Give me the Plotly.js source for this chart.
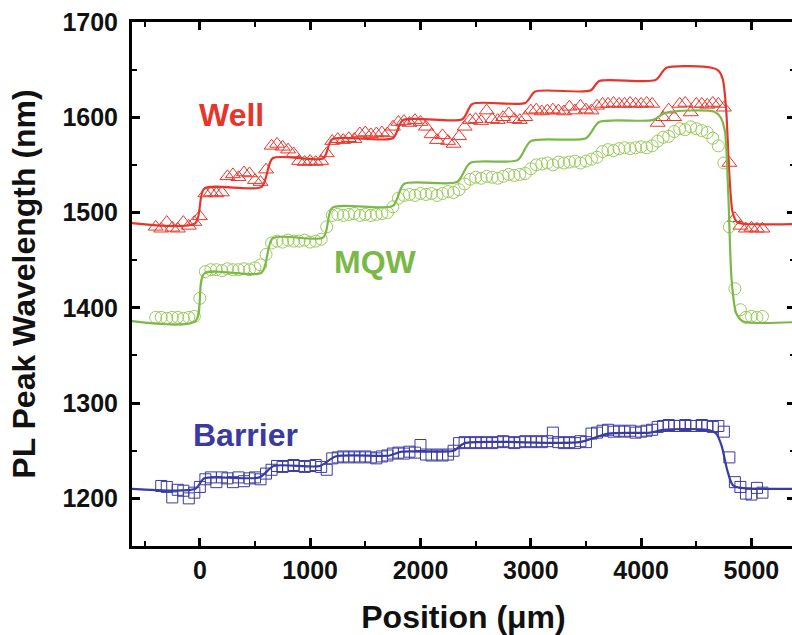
<!DOCTYPE html>
<html>
<head>
<meta charset="utf-8">
<script src="https://cdn.plot.ly/plotly-3.0.1.min.js"></script>
<style>
html, body { margin: 0; padding: 0; overflow: hidden; background: #fff; }
#chart { width: 797px; height: 635px; }
</style>
</head>
<body>
<div id="chart"></div>
<script>
// Measurement positions (um)
const posX = [-400,-350,-300,-250,-200,-150,-100,-50,0,50,100,150,200,250,300,350,400,450,500,550,
600,650,700,750,800,850,900,950,1000,1050,1100,1150,1200,1250,1300,1350,1400,1450,1500,1550,
1600,1650,1700,1750,1800,1850,1900,1950,2000,2050,2100,2150,2200,2250,2300,2350,2400,2450,2500,2550,
2600,2650,2700,2750,2800,2850,2900,2950,3000,3050,3100,3150,3200,3250,3300,3350,3400,3450,3500,3550,
3600,3650,3700,3750,3800,3850,3900,3950,4000,4050,4100,4150,4200,4250,4300,4350,4400,4450,4500,4550,
4600,4650,4700,4750,4800,4850,4900,4950,5000,5050,5100];

// Well PL peak (triangles)
const wellY = [1485,1483,1490,1484,1483,1490,1486,1490,1496,1520,1521,1520,1521,1538,1540,1537,1542,1541,1534,1532,
1545,1570,1572,1569,1566,1562,1554,1553,1554,1553,1554,1562,1575,1577,1576,1578,1577,1583,1584,1582,
1583,1584,1583,1590,1595,1596,1594,1597,1595,1590,1582,1576,1581,1575,1572,1580,1590,1597,1598,1596,
1607,1598,1597,1600,1604,1598,1597,1600,1607,1608,1606,1607,1608,1607,1606,1611,1607,1612,1608,1607,
1612,1614,1614,1615,1614,1614,1615,1614,1614,1615,1614,1594,1600,1608,1600,1614,1615,1605,1614,1614,
1613,1615,1614,1610,1552,1494,1486,1483,1484,1483,1483];

// MQW PL peak (circles)
const mqwY = [1390,1390,1389,1390,1390,1389,1390,1391,1410,1438,1440,1440,1439,1441,1440,1440,1441,1440,1442,1445,
1456,1468,1470,1469,1471,1470,1470,1471,1469,1470,1472,1485,1497,1498,1497,1498,1499,1497,1498,1497,
1498,1499,1500,1506,1515,1518,1519,1518,1520,1519,1520,1518,1520,1522,1521,1524,1530,1535,1537,1536,
1538,1537,1536,1538,1540,1539,1540,1541,1546,1550,1551,1552,1550,1553,1552,1553,1554,1552,1554,1556,
1558,1564,1566,1565,1567,1568,1567,1568,1569,1568,1570,1575,1579,1580,1585,1588,1587,1590,1588,1586,
1584,1578,1570,1552,1485,1420,1398,1390,1391,1390,1391];

// Barrier PL peak (squares)
const barrierY = [null,1213,1212,1201,1209,1208,1200,1206,1212,1220,1222,1217,1222,1221,1217,1222,1218,1221,1222,1220,
1226,1230,1234,1233,1234,1235,1234,1233,1234,1235,1233,1230,1242,1243,1244,1243,1244,1243,1244,1243,
1242,1244,1245,1247,1248,1247,1249,1248,1256,1246,1245,1246,1245,1246,1250,1258,1259,1258,1259,1258,
1259,1258,1259,1260,1259,1258,1259,1260,1259,1260,1259,1260,1269,1259,1258,1259,1258,1260,1259,1268,
1269,1271,1272,1270,1271,1270,1271,1269,1270,1271,1272,1275,1276,1277,1276,1276,1277,1276,1276,1277,
1276,1275,1276,1270,1243,1217,1212,1205,1204,1211,1206];

// Simulated curves (solid lines)
const wellFitX = [-620,-40,40,560,660,1120,1200,1750,1840,2380,2470,2950,3040,3540,3620,4130,4230,4640,4700,4740,4770,4800,4830,4870,4950,5400];
const wellFitY = [1489,1489,1525,1527,1557,1557,1577,1578,1597,1598,1614,1615,1627,1628,1638,1639,1652,1652,1649,1640,1610,1540,1500,1490,1488,1488];

const mqwFitX = [-620,-40,40,560,660,1120,1200,1750,1850,2330,2450,2880,3000,3500,3620,4100,4230,4660,4720,4760,4790,4820,4860,4920,5400];
const mqwFitY = [1386,1386,1436,1437,1473,1474,1505,1507,1530,1532,1552,1555,1575,1578,1595,1597,1605,1606,1600,1585,1520,1430,1395,1386,1385];

const barFitX = [-620,-40,40,540,670,1090,1230,1720,1830,2300,2400,3440,3700,4080,4200,4600,4680,4730,4780,4830,4900,5400];
const barFitY = [1210,1210,1221,1222,1234,1234,1244,1245,1249,1250,1258,1259,1268,1269,1272,1272,1268,1255,1230,1214,1211,1210];

const xTicks = [0,1000,2000,3000,4000,5000];
const yTicks = [1200,1300,1400,1500,1600,1700];

const RED = '#e8352b', GREEN = '#7cb848', GREEN_M = '#9ccb5c', BLUE = '#3a3aa3';
const FONT = 'Liberation Sans, Arial, sans-serif';

const traces = [
  {x: posX, y: wellY, mode: 'markers', type: 'scatter',
   marker: {symbol: 'triangle-up-open', size: 13, color: RED, line: {width: 1, color: RED}}},
  {x: posX, y: mqwY, mode: 'markers', type: 'scatter',
   marker: {symbol: 'circle-open', size: 12, color: GREEN_M, line: {width: 1, color: GREEN_M}}},
  {x: posX, y: barrierY, mode: 'markers', type: 'scatter',
   marker: {symbol: 'square-open', size: 11, color: BLUE, line: {width: 1, color: BLUE}}},
  {x: wellFitX, y: wellFitY, mode: 'lines', type: 'scatter',
   line: {color: RED, width: 2.2, shape: 'spline', smoothing: 0.7}},
  {x: mqwFitX, y: mqwFitY, mode: 'lines', type: 'scatter',
   line: {color: GREEN, width: 2.2, shape: 'spline', smoothing: 0.7}},
  {x: barFitX, y: barFitY, mode: 'lines', type: 'scatter',
   line: {color: BLUE, width: 2.2, shape: 'spline', smoothing: 0.7}}
];

const axisCommon = {
  showgrid: false, zeroline: false, showline: true, linecolor: '#000', linewidth: 3,
  mirror: 'ticks', ticks: 'inside', ticklen: 8, tickwidth: 3, tickcolor: '#000',
  tickfont: {family: FONT, size: 25, color: '#111', weight: 'bold'}
};

const layout = {
  width: 797, height: 635,
  margin: {l: 132, r: 2, t: 22, b: 89},
  paper_bgcolor: '#fff', plot_bgcolor: '#fff',
  showlegend: false,
  xaxis: Object.assign({}, axisCommon, {
    range: [-615, 5395], tickmode: 'array', tickvals: xTicks, ticktext: xTicks.map(String),
    minor: {tickvals: [-500,500,1500,2500,3500,4500], ticks: 'inside', ticklen: 5, tickwidth: 2, tickcolor: '#000'},
    title: {text: 'Position (μm)', font: {family: FONT, size: 32, color: '#111', weight: 'bold'}, standoff: 25}
  }),
  yaxis: Object.assign({}, axisCommon, {
    range: [1150, 1700], tickmode: 'array', tickvals: yTicks, ticktext: yTicks.map(String),
    minor: {tickvals: [1250,1350,1450,1550,1650], ticks: 'inside', ticklen: 5, tickwidth: 2, tickcolor: '#000'},
    ticklabelstandoff: 6,
    title: {text: 'PL Peak Wavelength (nm)', font: {family: FONT, size: 32, color: '#111', weight: 'bold'}, standoff: 18}
  }),
  annotations: [
    {x: 290, y: 1602, xref: 'x', yref: 'y', text: 'Well', showarrow: false,
     font: {family: FONT, size: 32, color: RED, weight: 'bold'}},
    {x: 1590, y: 1448, xref: 'x', yref: 'y', text: 'MQW', showarrow: false,
     font: {family: FONT, size: 32, color: GREEN, weight: 'bold'}},
    {x: 410, y: 1266, xref: 'x', yref: 'y', text: 'Barrier', showarrow: false,
     font: {family: FONT, size: 32, color: BLUE, weight: 'bold'}}
  ]
};

Plotly.newPlot('chart', traces, layout, {displayModeBar: false, staticPlot: true});
</script>
</body>
</html>
